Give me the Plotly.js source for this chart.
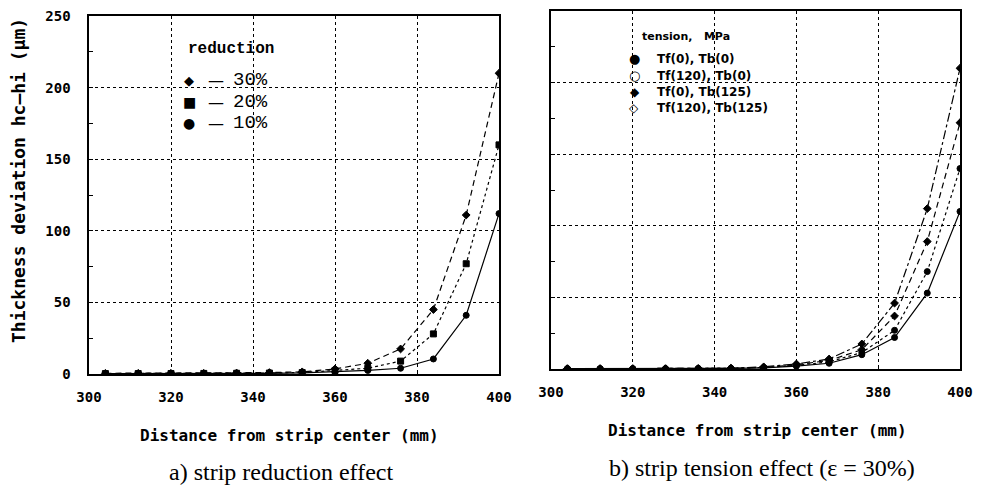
<!DOCTYPE html>
<html>
<head>
<meta charset="utf-8">
<script src="https://cdn.plot.ly/plotly-3.0.1.min.js"></script>
<style>
html,body{margin:0;padding:0;background:#fff;}
#chart{width:982px;height:487px;}
</style>
</head>
<body>
<div id="chart"></div>
<script>
// ---- data ----
const distance = [304, 312, 320, 328, 336, 344, 352, 360, 368, 376, 384, 392, 400];

// a) strip reduction effect
const reductionNames = ['30%', '20%', '10%'];
const red30 = [0.5, 0.5, 0.5, 0.5, 0.7, 1.0, 1.5, 3.5, 7.5, 17.5, 45, 111, 210];
const red20 = [0.3, 0.3, 0.3, 0.4, 0.5, 0.7, 1.0, 2.5, 4.0, 9.0, 28, 77, 160];
const red10 = [0.2, 0.2, 0.2, 0.3, 0.4, 0.5, 0.8, 1.5, 2.5, 4.0, 10.5, 41, 112];

// b) strip tension effect (eps = 30%)
const tensionNames = ['Tf(0), Tb(0)', 'Tf(120), Tb(0)', 'Tf(0), Tb(125)', 'Tf(120), Tb(125)'];
const tf0tb0     = [0.2, 0.2, 0.2, 0.2, 0.3, 0.4, 0.8, 2.0, 4.0, 10.0, 22, 53, 110];
const tf120tb0   = [0.2, 0.2, 0.2, 0.2, 0.3, 0.4, 1.0, 2.5, 5.0, 11.5, 27, 68, 140];
const tf0tb125   = [0.2, 0.2, 0.2, 0.2, 0.3, 0.5, 1.0, 3.0, 6.0, 13.5, 37, 89, 172];
const tf120tb125 = [0.2, 0.2, 0.2, 0.2, 0.3, 0.5, 1.5, 3.5, 7.0, 17.5, 46, 112, 210];

const xTicks = [300, 320, 340, 360, 380, 400];
const yTicks = [0, 50, 100, 150, 200, 250];

// ---- styling ----
const W = 982, H = 487;
const px = v => v / W;
const py = v => 1 - v / H;
const mono = 'DejaVu Sans Mono';

function tr(x, y, name, xa, ya, dash, sym) {
  return {
    x: x, y: y, name: name, type: 'scatter', mode: 'lines+markers',
    xaxis: xa, yaxis: ya, showlegend: false,
    line: {color: '#000', width: 1.2, dash: dash},
    marker: {color: '#000', size: 6, symbol: sym, line: {color: '#000', width: 1}}
  };
}

const traces = [
  tr(distance, red30, reductionNames[0], 'x', 'y', '6px,4px', 'diamond'),
  tr(distance, red20, reductionNames[1], 'x', 'y', 'dot', 'square'),
  tr(distance, red10, reductionNames[2], 'x', 'y', 'solid', 'circle'),
  tr(distance, tf0tb0, tensionNames[0], 'x2', 'y2', 'solid', 'circle'),
  tr(distance, tf120tb0, tensionNames[1], 'x2', 'y2', 'dot', 'circle'),
  tr(distance, tf0tb125, tensionNames[2], 'x2', 'y2', '6px,4px', 'diamond'),
  tr(distance, tf120tb125, tensionNames[3], 'x2', 'y2', 'dashdot', 'diamond')
];

const tickFont = {family: mono, size: 14, color: '#000', weight: 'bold'};

function xAxis(domain, anchor) {
  return {
    domain: domain, anchor: anchor, range: [300, 400],
    tickvals: xTicks, ticktext: xTicks.map(String),
    showgrid: true, gridcolor: '#000', gridwidth: 1, griddash: 'dot',
    showline: true, linecolor: '#000', linewidth: 1.6, mirror: true,
    ticks: 'inside', ticklen: 4, tickcolor: '#000',
    tickfont: tickFont, ticklabelstandoff: 10, zeroline: false
  };
}
function yAxis(domain, anchor, labels) {
  return {
    domain: domain, anchor: anchor, range: [0, 250],
    tickvals: yTicks, ticktext: yTicks.map(String), showticklabels: labels,
    showgrid: true, gridcolor: '#000', gridwidth: 1, griddash: 'dot',
    showline: true, linecolor: '#000', linewidth: 1.6, mirror: true,
    ticks: 'inside', ticklen: 4, tickcolor: '#000',
    minor: {dtick: 25, ticks: 'inside', ticklen: 4, tickcolor: '#000', showgrid: false},
    tickfont: tickFont, ticklabelstandoff: 14, zeroline: false
  };
}

function ann(text, x, y, opts) {
  return Object.assign({
    text: text, x: px(x), y: py(y), xref: 'paper', yref: 'paper',
    showarrow: false, xanchor: 'center', yanchor: 'middle',
    font: {family: mono, size: 13, color: '#000', weight: 'bold'}
  }, opts || {});
}

const legA = {family: 'Liberation Mono', size: 19, color: '#000'};
const legB = {family: 'DejaVu Sans', size: 12, color: '#000', weight: 'bold'};
const sym = s => ({family: 'DejaVu Sans', size: s, color: '#000'});

const annotations = [
  ann('Thickness deviation hc\u2013hi (\u00b5m)', 18, 181, {textangle: -90, font: {family: mono, size: 18, color: '#000', weight: 'bold'}}),
  ann('Distance from strip center (mm)', 289, 435, {font: {family: mono, size: 16, color: '#000', weight: 'bold'}}),
  ann('Distance from strip center (mm)', 757, 430, {font: {family: mono, size: 16, color: '#000', weight: 'bold'}}),
  ann('a) strip reduction effect', 281, 472, {font: {family: 'Liberation Serif', size: 24, color: '#000'}}),
  ann('b) strip tension effect (\u03b5 = 30%)', 762, 468, {font: {family: 'Liberation Serif', size: 24, color: '#000'}}),
  // legend a)
  ann('reduction', 186, 49, {xanchor: 'left', font: {family: 'Liberation Mono', size: 16, color: '#000', weight: 'bold'}}),
  ann('\u25c6', 189, 80, {font: sym(13)}),
  ann('\u25a0', 189, 102, {font: sym(14)}),
  ann('\u25cf', 189, 123, {font: sym(14)}),
  ann('\u2014', 216, 80, {font: sym(16)}),
  ann('\u2014', 216, 102, {font: sym(16)}),
  ann('\u2014', 216, 123, {font: sym(16)}),
  ann(reductionNames[0], 231, 80, {xanchor: 'left', font: legA}),
  ann(reductionNames[1], 231, 102, {xanchor: 'left', font: legA}),
  ann(reductionNames[2], 231, 123, {xanchor: 'left', font: legA}),
  // legend b)
  ann('tension,   MPa', 640, 37, {xanchor: 'left', font: {family: 'DejaVu Sans', size: 11, color: '#000', weight: 'bold'}}),
  ann('\u25cf', 634, 59, {font: sym(13)}),
  ann('\u25cb', 634, 76, {font: sym(13)}),
  ann('\u25c6', 635, 92, {font: sym(12)}),
  ann('\u25c7', 634, 108, {font: sym(12)}),
  ann(tensionNames[0], 655, 59, {xanchor: 'left', font: legB}),
  ann(tensionNames[1], 655, 76, {xanchor: 'left', font: legB}),
  ann(tensionNames[2], 655, 92, {xanchor: 'left', font: legB}),
  ann(tensionNames[3], 655, 108, {xanchor: 'left', font: legB})
];

const layout = {
  width: W, height: H,
  margin: {l: 0, r: 0, t: 0, b: 0},
  paper_bgcolor: '#fff', plot_bgcolor: '#fff',
  showlegend: false,
  xaxis: xAxis([px(89), px(499)], 'y'),
  yaxis: yAxis([py(374), py(16)], 'x', true),
  xaxis2: xAxis([px(551), px(960)], 'y2'),
  yaxis2: yAxis([py(369), py(11)], 'x2', false),
  annotations: annotations
};

Plotly.newPlot('chart', traces, layout, {displayModeBar: false, staticPlot: true});
</script>
</body>
</html>
